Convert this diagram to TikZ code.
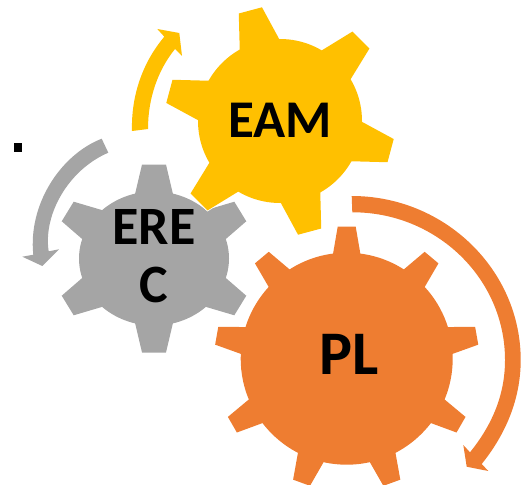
\documentclass[tikz,border=0pt]{standalone}
\usepackage{fontspec}
\setmainfont{Carlito}
\usetikzlibrary{positioning}

\definecolor{gearyellow}{HTML}{FFC000}
\definecolor{gearorange}{HTML}{EE7D31}
\definecolor{geargrey}{HTML}{A5A5A5}

\tikzset{
    gearlabel/.style={font=\fontsize{#1}{58}\selectfont\bfseries, text=black, inner sep=0pt, align=center},
    gearhalo/.style={fill=white, draw=white, line width=1.6pt}
}

% #1 style, #2 centre, #3 xscale, #4 tooth angles, #5 body radius, #6 tip radius, #7 half base, #8 half tip
\newcommand{\gearshape}[8]{
    \begin{scope}[shift={(#2)}, xscale=#3]
        \path[#1] (0,0) circle[radius=#5];
        \foreach \toothangle in {#4} {
            \path[#1, rotate=\toothangle] (#5-3,-#7) -- (#6,-#8) -- (#6,#8) -- (#5-3,#7) -- cycle;
        }
    \end{scope}
}

\begin{document}
\begin{tikzpicture}[x=1pt, y=-1pt]
    \useasboundingbox (0,0) rectangle (526,484);

    % Gears
    \fill[geargrey] (154,258.5) ellipse[x radius=75, y radius=67];
    \gearshape{fill=geargrey}{154,258.5}{1.06}{90,30,-30,-90,-150,150}{67}{94}{18}{11.3}
    \gearshape{gearhalo}{280,121}{1}{45,105,165,225,285,345}{82}{114.5}{20.5}{12}
    \gearshape{fill=gearyellow}{280,121}{1}{45,105,165,225,285,345}{82}{114.5}{20.5}{12}
    \gearshape{fill=gearorange}{346.7,358.7}{1}{90,130,170,210,250,290,330,10,50}{106}{132}{14}{9}

    % Gear labels
    \node (EAM) [gearlabel=53] at (280,120) {EAM};
    \node (EREC) [gearlabel=54] at (154,256.5) {ERE\\C};
    \node (PL) [gearlabel=62] at (348.7,354) {PL};

    % Rotation arrows
    \fill[gearyellow] (132,131) .. controls (131,95) and (143,62) .. (164.3,36.7)
        -- (157.3,29) -- (179.3,33) -- (182,56) -- (175,49)
        .. controls (158,70) and (148,98) .. (148,129) -- cycle;
    \fill[geargrey] (101.7,138.7) .. controls (60,155) and (28,205) .. (33.3,254.7)
        -- (22.3,256.7) -- (42.3,266) -- (59,249.3) -- (48.7,251.3)
        .. controls (43,215) and (68,170) .. (108.3,152.7) -- cycle;
    \fill[gearorange] (351.7,196) .. controls (445,196) and (520.7,270) .. (520.7,360)
        .. controls (520.7,400) and (505,435) .. (481.7,464)
        -- (488.3,471) -- (466.7,466.7) -- (463.3,445) -- (470,452.3)
        .. controls (492,425) and (505,395) .. (505,360)
        .. controls (505,278) and (436,212) .. (352.3,212.3) -- cycle;

    % Stray bullet
    \node (bullet) [fill=black, inner sep=0pt, minimum width=8pt, minimum height=8.5pt] at (18,147.5) {};
\end{tikzpicture}
\end{document}
